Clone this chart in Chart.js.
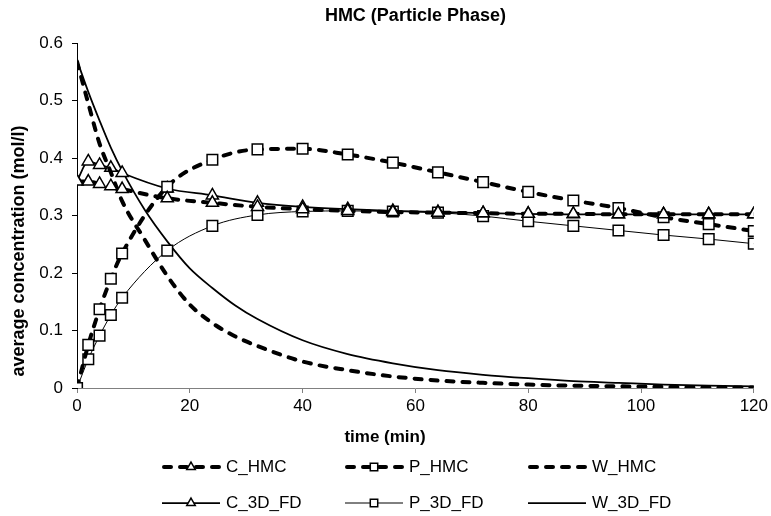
<!DOCTYPE html>
<html>
<head>
<meta charset="utf-8">
<script src="https://cdn.jsdelivr.net/npm/chart.js@4.4.1/dist/chart.umd.min.js"></script>
<style>
  body { margin: 0; background: #fff; }
  #wrap { width: 771px; height: 516px; position: relative; }
</style>
</head>
<body>
<div id="wrap"><canvas id="chart"></canvas></div>
<script>
// sampling times (min)
const tMark = [0, 2, 4, 6, 8, 16, 24, 32, 40, 48, 56, 64, 72, 80, 88, 96, 104, 112, 120];
const tW = [0, 2, 4, 6, 8, 12, 16, 20, 24, 28, 32, 40, 48, 56, 64, 72, 80, 88, 96, 104, 112, 120];

// average concentration (mol/l)
const cHmc = [0.359, 0.359, 0.355, 0.351, 0.346, 0.330, 0.322, 0.315, 0.311, 0.308, 0.306, 0.305, 0.304, 0.303, 0.303, 0.302, 0.302, 0.302, 0.302];
const pHmc = [0, 0.075, 0.137, 0.19, 0.234, 0.35, 0.397, 0.415, 0.416, 0.406, 0.392, 0.375, 0.358, 0.341, 0.326, 0.313, 0.297, 0.285, 0.273];
const wHmc = [0.568, 0.495, 0.425, 0.375, 0.325, 0.258, 0.195, 0.145, 0.113, 0.09, 0.073, 0.046, 0.031, 0.02, 0.013, 0.009, 0.006, 0.004, 0.003, 0.002, 0.001, 0.001];
const c3d = [0.36, 0.394, 0.388, 0.383, 0.374, 0.347, 0.335, 0.322, 0.315, 0.311, 0.308, 0.306, 0.304, 0.303, 0.302, 0.302, 0.302, 0.302, 0.302];
const p3d = [0, 0.05, 0.091, 0.127, 0.157, 0.239, 0.282, 0.301, 0.307, 0.308, 0.307, 0.305, 0.299, 0.29, 0.282, 0.274, 0.266, 0.259, 0.251];
const w3d = [0.57, 0.515, 0.465, 0.418, 0.378, 0.31, 0.255, 0.208, 0.174, 0.144, 0.12, 0.083, 0.059, 0.043, 0.031, 0.023, 0.017, 0.012, 0.009, 0.006, 0.004, 0.003];

const names = ['C_HMC', 'P_HMC', 'W_HMC', 'C_3D_FD', 'P_3D_FD', 'W_3D_FD'];
const chartTitle = 'HMC (Particle Phase)';
const xTitle = 'time (min)';
const yTitle = 'average concentration (mol/l)';

const FONT = '"Liberation Sans", Arial, sans-serif';

const pairs = (xs, ys) => xs.map((x, i) => ({ x: x, y: ys[i] }));

function series(label, xs, ys, width, dash, marker, radius) {
  return {
    label: label,
    data: pairs(xs, ys),
    borderColor: '#000',
    borderWidth: width,
    borderDash: dash,
    borderCapStyle: dash.length ? 'round' : 'butt',
    borderJoinStyle: 'round',
    cubicInterpolationMode: 'monotone',
    pointStyle: marker || 'circle',
    pointRadius: marker ? radius : 0,
    pointHoverRadius: marker ? radius : 0,
    pointBackgroundColor: '#fff',
    pointBorderColor: '#000',
    pointBorderWidth: 1.5
  };
}

const dash = [7, 9];

// legend + titles drawn on the canvas
const decor = {
  id: 'decor',
  afterDraw(chart) {
    const ctx = chart.ctx;
    const area = chart.chartArea;
    ctx.save();
    ctx.fillStyle = '#000';
    ctx.textAlign = 'center';
    ctx.textBaseline = 'middle';
    ctx.font = 'bold 18px ' + FONT;
    ctx.fillText(chartTitle, (area.left + area.right) / 2, 16);
    ctx.font = 'bold 17px ' + FONT;
    ctx.fillText(xTitle, 385, 437);
    ctx.font = 'bold 18px ' + FONT;
    ctx.save();
    ctx.translate(19, 251);
    ctx.rotate(-Math.PI / 2);
    ctx.fillText(yTitle, 0, 0);
    ctx.restore();

    const cols = [162, 345, 528];
    const rows = [467, 503];
    ctx.font = '17px ' + FONT;
    ctx.textAlign = 'left';
    chart.data.datasets.forEach((ds, i) => {
      const x0 = cols[i % 3];
      const y = rows[Math.floor(i / 3)];
      ctx.strokeStyle = '#000';
      ctx.lineWidth = ds.borderWidth;
      ctx.setLineDash(ds.borderDash);
      ctx.lineCap = ds.borderCapStyle;
      ctx.beginPath();
      ctx.moveTo(x0 + (ds.borderDash.length ? 2 : 0), y);
      ctx.lineTo(x0 + 58, y);
      ctx.stroke();
      ctx.setLineDash([]);
      if (ds.pointRadius > 0 && Chart.helpers && Chart.helpers.drawPoint) {
        ctx.fillStyle = '#fff';
        ctx.lineWidth = 1.5;
        Chart.helpers.drawPoint(ctx, {
          pointStyle: ds.pointStyle,
          radius: ds.pointRadius * 0.7,
          borderWidth: 1.5,
          rotation: 0
        }, x0 + 29, y);
      }
      ctx.fillStyle = '#000';
      ctx.fillText(ds.label, x0 + 64, y);
    });
    ctx.restore();
  }
};

new Chart(document.getElementById('chart'), {
  type: 'line',
  data: {
    datasets: [
      series(names[0], tMark, cHmc, 4, dash, 'triangle', 7),
      series(names[1], tMark, pHmc, 4, dash, 'rect', 7.5),
      series(names[2], tW, wHmc, 4, dash, null, 0),
      series(names[3], tMark, c3d, 1.75, [], 'triangle', 7),
      series(names[4], tMark, p3d, 1, [], 'rect', 7.5),
      series(names[5], tW, w3d, 1.75, [], null, 0)
    ]
  },
  options: {
    responsive: true,
    maintainAspectRatio: false,
    animation: false,
    layout: {
      padding: { left: 0, right: 14, top: 43, bottom: 88 }
    },
    plugins: {
      legend: { display: false },
      tooltip: { enabled: false }
    },
    scales: {
      x: {
        type: 'linear',
        min: 0,
        max: 120,
        afterFit: (scale) => { scale.height = 40; },
        ticks: {
          stepSize: 20,
          color: '#000',
          padding: 3,
          maxRotation: 0,
          font: { family: FONT, size: 17 }
        },
        grid: { drawOnChartArea: false, tickLength: 5, color: '#808080' },
        border: { color: '#808080', width: 1 }
      },
      y: {
        min: 0,
        max: 0.6,
        afterFit: (scale) => { scale.width = 77; },
        ticks: {
          stepSize: 0.1,
          color: '#000',
          padding: 9,
          font: { family: FONT, size: 17 },
          callback: (v) => String(+v.toFixed(1))
        },
        grid: { drawOnChartArea: false, tickLength: 5, color: '#000' },
        border: { color: '#000', width: 1 }
      }
    }
  },
  plugins: [decor]
});
</script>
</body>
</html>
